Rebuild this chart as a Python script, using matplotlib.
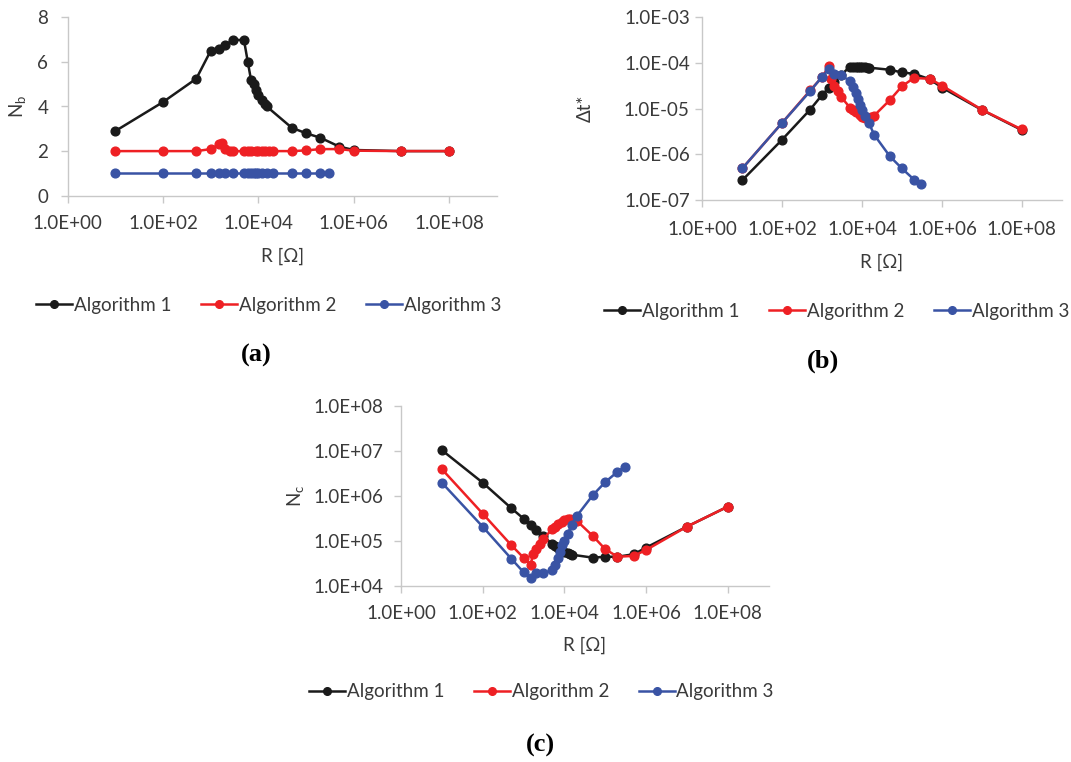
import matplotlib
matplotlib.use("Agg")
import matplotlib.pyplot as plt
from matplotlib.ticker import FixedLocator, FuncFormatter, NullLocator
from matplotlib.lines import Line2D

plt.rcParams['font.family'] = ['Lato', 'DejaVu Sans']
plt.rcParams['mathtext.default'] = 'regular'

# ---------------- data ----------------
series_names = ["Algorithm 1", "Algorithm 2", "Algorithm 3"]

R1 = [10, 100, 500, 1000, 1500, 2000, 3000, 5000, 6000, 7000, 8000, 9000, 10000,
      12000, 14000, 15000, 50000, 1e5, 2e5, 5e5, 1e6, 1e7, 1e8]
R2 = [10, 100, 500, 1000, 1500, 1700, 2000, 2500, 3000, 5000, 6000, 7000, 9000, 10000,
      12000, 14000, 17000, 20000, 50000, 1e5, 2e5, 5e5, 1e6, 1e7, 1e8]
R3 = [10, 100, 500, 1000, 1500, 2000, 3000, 5000, 6000, 7000, 8000, 9000, 10000,
      12000, 15000, 20000, 50000, 1e5, 2e5, 3e5]

# (a) N_b
Nb1 = [2.9, 4.2, 5.25, 6.5, 6.6, 6.75, 7.0, 6.97, 6.0, 5.2, 5.0, 4.75, 4.5,
       4.3, 4.1, 4.0, 3.05, 2.8, 2.6, 2.2, 2.05, 2.0, 2.0]
Nb2 = [2.0, 2.0, 2.0, 2.09, 2.3, 2.38, 2.1, 2.0, 2.0, 2.0, 2.0, 2.0, 2.0, 2.0,
       2.0, 2.0, 2.0, 2.0, 2.0, 2.03, 2.09, 2.09, 2.02, 2.0, 2.0]
Nb3 = [1.0] * 20

# (b) Delta t*
dt1 = [2.7e-7, 2.1e-6, 9.5e-6, 2.0e-5, 2.9e-5, 3.8e-5, 5.5e-5, 8.3e-5, 8.3e-5, 8.2e-5,
       8.1e-5, 8.1e-5, 8.0e-5, 8.0e-5, 7.9e-5, 7.9e-5, 7.1e-5, 6.2e-5, 5.8e-5, 4.4e-5,
       2.9e-5, 9.4e-6, 3.4e-6]
dt2 = [4.9e-7, 4.9e-6, 2.5e-5, 4.9e-5, 8.6e-5, 4.5e-5, 3.2e-5, 2.4e-5, 1.8e-5, 1.05e-5,
       9.5e-6, 8.5e-6, 7.2e-6, 6.5e-6, 6.2e-6, 6.3e-6, 6.6e-6, 7.0e-6, 1.55e-5, 3.1e-5,
       4.7e-5, 4.5e-5, 3.2e-5, 9.5e-6, 3.5e-6]
dt3 = [4.9e-7, 4.9e-6, 2.4e-5, 5.0e-5, 7.5e-5, 5.8e-5, 5.4e-5, 4.0e-5, 3.0e-5, 2.2e-5,
       1.6e-5, 1.2e-5, 9.5e-6, 7.0e-6, 4.8e-6, 2.7e-6, 9.0e-7, 4.9e-7, 2.8e-7, 2.2e-7]

# (c) N_c
Nc1 = [1.03e7, 1.95e6, 5.3e5, 3.1e5, 2.2e5, 1.7e5, 1.3e5, 8.4e4, 7.6e4, 7.0e4, 6.5e4,
       6.0e4, 5.6e4, 5.3e4, 5.0e4, 4.9e4, 4.2e4, 4.4e4, 4.4e4, 5.0e4, 7.0e4, 2.05e5, 5.7e5]
Nc2 = [3.9e6, 4.0e5, 8.0e4, 4.2e4, 2.9e4, 5.0e4, 6.5e4, 8.5e4, 1.07e5, 1.8e5, 2.0e5,
       2.3e5, 2.6e5, 2.9e5, 3.0e5, 3.1e5, 3.0e5, 2.8e5, 1.27e5, 6.5e4, 4.4e4, 4.6e4,
       6.2e4, 2.05e5, 5.7e5]
Nc3 = [1.95e6, 2.05e5, 4.0e4, 2.0e4, 1.45e4, 1.9e4, 1.9e4, 2.2e4, 2.9e4, 4.1e4, 5.7e4,
       8.0e4, 1.0e5, 1.4e5, 2.2e5, 3.5e5, 1.03e6, 2.0e6, 3.4e6, 4.4e6]

x_ticks = [1e0, 1e2, 1e4, 1e6, 1e8]

# ---------------- style ----------------
line_colors = ['#1a1a1a', '#ee2024', '#3953a4']
marker_colors = ['#1a1a1a', '#ee2024', '#3953a4']
spine_col = '#c8c8c8'
text_col = '#3a3a3a'
FS = 13.5

fig = plt.figure(figsize=(10.71, 7.62), dpi=100)
W, H = 1071.0, 762.0


def make_ax(x0, x1, ytop, ybot):
    return fig.add_axes([x0 / W, 1 - ybot / H, (x1 - x0) / W, (ybot - ytop) / H])


def sci(v, pos):
    return format(v, '.1E')


def style(ax, ypad, xpad):
    for s in ['top', 'right']:
        ax.spines[s].set_visible(False)
    for s in ['left', 'bottom']:
        ax.spines[s].set_color(spine_col)
        ax.spines[s].set_linewidth(1.0)
    ax.tick_params(axis='both', colors=spine_col, labelcolor=text_col,
                   labelsize=FS, length=5, width=1.0, direction='out')
    ax.tick_params(axis='y', pad=ypad)
    ax.tick_params(axis='x', pad=xpad)
    ax.set_xscale('log')
    ax.set_xlim(1, 1e9)
    ax.xaxis.set_major_locator(FixedLocator(x_ticks))
    ax.xaxis.set_minor_locator(NullLocator())
    ax.xaxis.set_major_formatter(FuncFormatter(sci))


def plot_series(ax, xs, ys):
    for i, (x, y) in enumerate(zip(xs, ys)):
        ax.plot(x, y, '-', color=line_colors[i], lw=1.8, marker='o', ms=6.3,
                mfc=marker_colors[i], mec=marker_colors[i], label=series_names[i],
                zorder=3 + i, clip_on=False)


# (a)
axa = make_ax(67.7, 496.7, 17.3, 195.7)
style(axa, ypad=9, xpad=9)
plot_series(axa, [R1, R2, R3], [Nb1, Nb2, Nb3])
axa.set_ylim(0, 8)
axa.set_yticks([0, 2, 4, 6, 8])
axa.set_xlabel('R [Ω]', fontsize=FS, color=text_col)
axa.xaxis.set_label_coords(0.5, -(256 - 195.7) / 178.4)
axa.xaxis.label.set_va('center')
axa.set_ylabel('N$_b$', fontsize=FS, color=text_col)
axa.yaxis.set_label_coords((18 - 67.7) / 429.0, 0.5)
axa.yaxis.label.set_va('center')

# (b)
axb = make_ax(702.3, 1061.7, 17.3, 200.0)
style(axb, ypad=4, xpad=10)
plot_series(axb, [R1, R2, R3], [dt1, dt2, dt3])
axb.set_yscale('log')
axb.set_ylim(1e-7, 1e-3)
axb.yaxis.set_major_locator(FixedLocator([1e-7, 1e-6, 1e-5, 1e-4, 1e-3]))
axb.yaxis.set_minor_locator(NullLocator())
axb.yaxis.set_major_formatter(FuncFormatter(sci))
axb.set_xlabel('R [Ω]', fontsize=FS, color=text_col)
axb.xaxis.set_label_coords(0.5, -(262 - 200) / 182.7)
axb.xaxis.label.set_va('center')
axb.set_ylabel('Δt*', fontsize=FS, color=text_col)
axb.yaxis.set_label_coords((585 - 702.3) / 359.4, 0.5)
axb.yaxis.label.set_va('center')

# (c)
axc = make_ax(401.0, 768.5, 405.7, 585.7)
style(axc, ypad=8, xpad=9)
plot_series(axc, [R1, R2, R3], [Nc1, Nc2, Nc3])
axc.set_yscale('log')
axc.set_ylim(1e4, 1e8)
axc.yaxis.set_major_locator(FixedLocator([1e4, 1e5, 1e6, 1e7, 1e8]))
axc.yaxis.set_minor_locator(NullLocator())
axc.yaxis.set_major_formatter(FuncFormatter(sci))
axc.set_xlabel('R [Ω]', fontsize=FS, color=text_col)
axc.xaxis.set_label_coords(0.5, -(645 - 585.7) / 180.0)
axc.xaxis.label.set_va('center')
axc.set_ylabel('N$_c$', fontsize=FS, color=text_col)
axc.yaxis.set_label_coords((296 - 401) / 367.5, 0.5)
axc.yaxis.label.set_va('center')

# legends
handles = [Line2D([], [], color=line_colors[i], lw=1.8, marker='o', ms=5.5,
                  mfc=marker_colors[i], mec=marker_colors[i]) for i in range(3)]
for cx, cy in [(268.5, 305), (836.5, 311), (541.5, 692)]:
    fig.legend(handles, series_names, loc='center', bbox_to_anchor=(cx / W, 1 - cy / H),
               ncol=3, frameon=False, fontsize=FS, handlelength=1.9, handletextpad=0.1,
               columnspacing=1.6, labelcolor=text_col)

# panel labels
for lab, cx, cy in [('(a)', 256, 355), ('(b)', 823, 361), ('(c)', 540, 745)]:
    fig.text(cx / W, 1 - cy / H, lab, ha='center', va='center',
             family=['Liberation Serif', 'DejaVu Serif'], fontweight='bold', fontsize=19)

fig.savefig('out.png', dpi=100)
